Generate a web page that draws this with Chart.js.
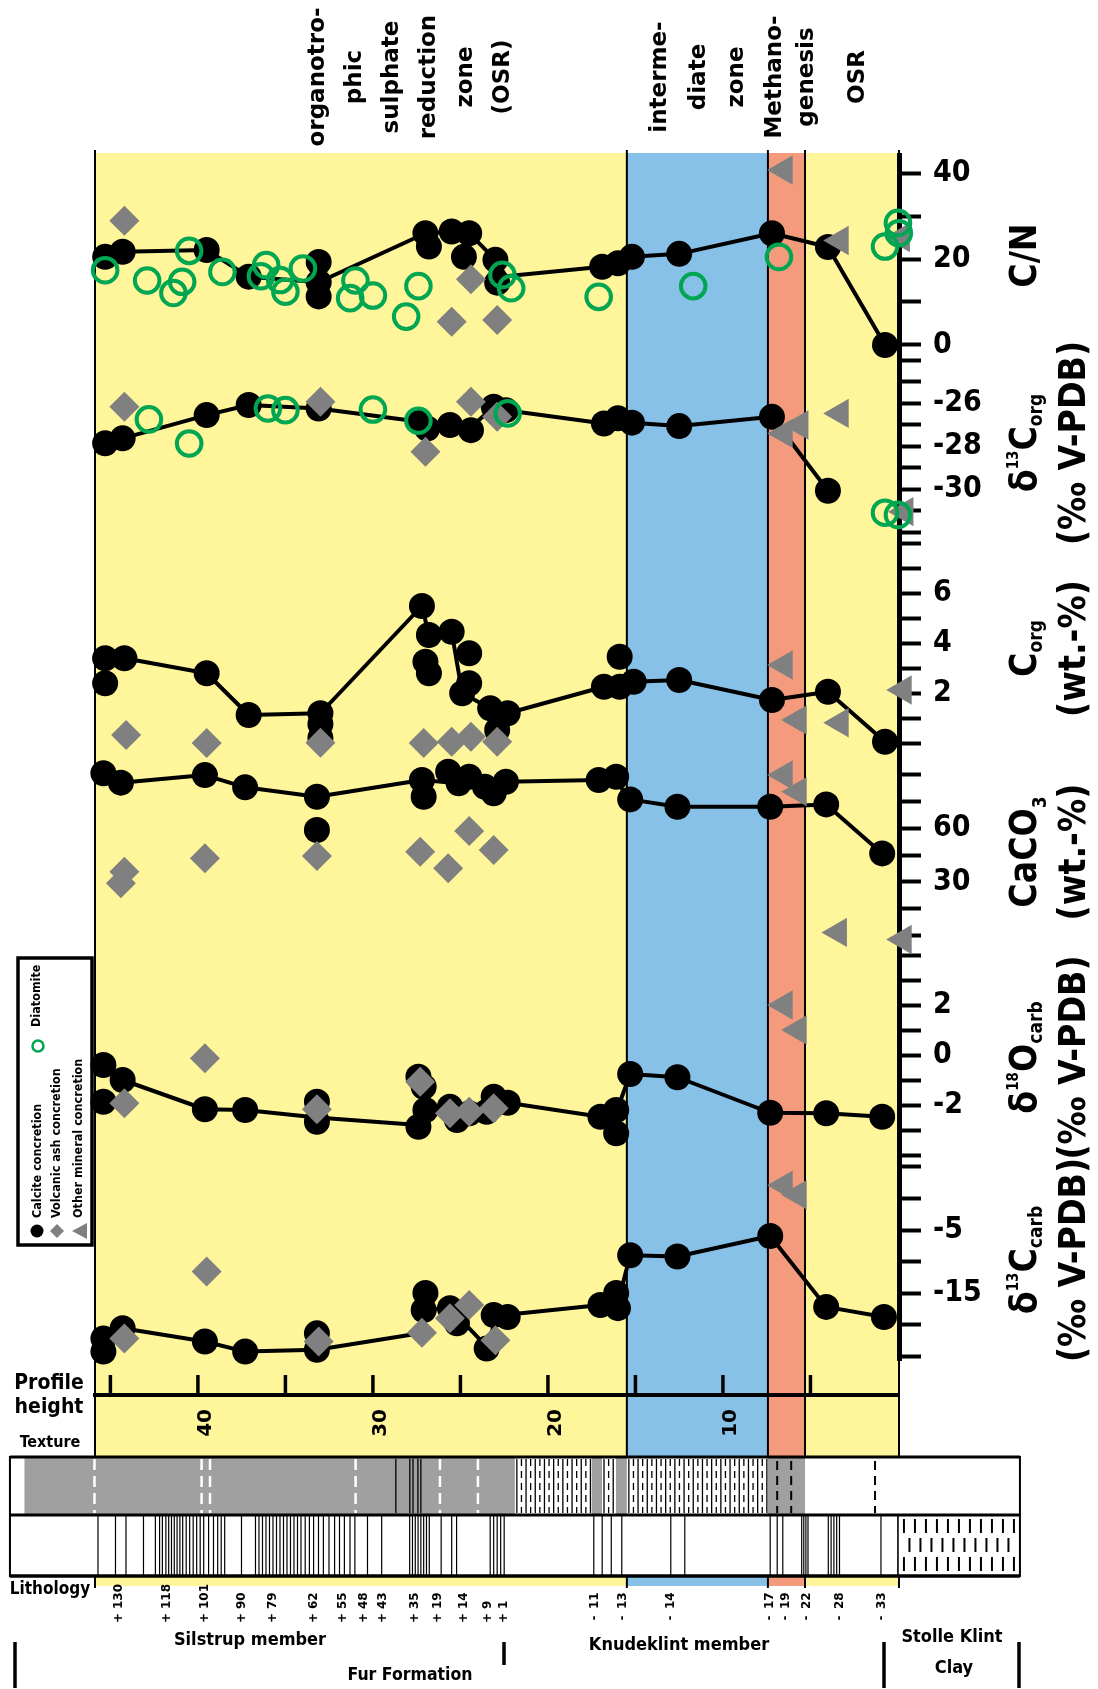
<!DOCTYPE html>
<html>
<head>
<meta charset="utf-8">
<title>Fur Formation concretions – geochemical profile</title>
<script src="https://cdn.jsdelivr.net/npm/chart.js@4.4.1/dist/chart.umd.min.js"></script>
<style>
  html, body { margin: 0; padding: 0; background: #ffffff; }
  #wrap { position: relative; width: 1098px; height: 1689px; }
</style>
</head>
<body>
<div id="wrap"><canvas id="profile"></canvas></div>
<script>
// ------------------------------------------------------------------
// Measurements, each point is [profile height (m), value]
// ------------------------------------------------------------------

// C/N
const cnCalcite = [[45.3,20.5],[44.3,21.7],[39.5,22.1],[37.1,15.9],[33.1,19.3],[33.1,14.6],[33.1,11.3],
  [27.0,26.0],[26.8,22.9],[25.5,26.4],[24.5,26.0],[24.8,20.5],[23.0,19.8],[22.9,14.5],
  [16.9,18.2],[16.0,19.0],[15.2,20.5],[12.5,21.2],[7.2,26.0],[4.0,22.8],[0.74,0.0]];
const cnTrend = [[45.3,20.5],[44.3,21.7],[39.5,22.1],[37.1,15.9],[33.1,14.6],[27.0,26.0],[25.5,26.4],
  [24.5,26.0],[23.0,19.8],[22.4,16.0],[16.9,18.2],[16.0,19.0],[15.2,20.5],[12.5,21.2],[7.2,26.0],[4.0,22.8],[0.74,0.0]];
const cnAsh = [[44.2,28.9],[24.4,15.3],[25.5,5.4],[22.9,5.8]];
const cnOther = [[6.5,40.7],[3.3,24.3],[-0.2,25.0]];
const cnDiatomite = [[45.3,17.4],[42.9,15.0],[41.4,12.1],[40.9,14.7],[40.5,21.9],[38.6,17.0],[36.4,16.0],
  [36.1,18.6],[35.3,15.1],[35.0,12.4],[34.0,17.8],[31.3,10.9],[31.0,15.0],[30.0,11.5],[28.1,6.6],
  [27.4,13.7],[22.6,16.3],[22.1,13.2],[17.1,11.2],[11.7,13.7],[6.8,20.5],[0.74,22.9],[0.0,28.4],[-0.05,26.0]];

// δ13C org (‰ V-PDB)
const corgIsoCalcite = [[45.3,-27.87],[44.3,-27.64],[39.5,-26.56],[37.1,-26.09],[33.1,-26.25],[27.3,-26.87],
  [26.9,-27.18],[25.6,-27.02],[24.4,-27.26],[23.1,-26.17],[22.4,-26.33],[16.8,-26.95],[16.0,-26.71],
  [15.2,-26.91],[12.5,-27.07],[7.2,-26.64],[4.0,-30.08]];
const corgIsoTrend = [[45.3,-27.87],[44.3,-27.64],[39.5,-26.56],[37.1,-26.09],[33.1,-26.25],[27.3,-26.87],
  [25.6,-27.02],[24.4,-27.1],[23.1,-26.2],[22.4,-26.33],[16.8,-26.95],[16.0,-26.71],[15.2,-26.91],
  [12.5,-27.07],[7.2,-26.64],[4.0,-30.08]];
const corgIsoAsh = [[44.2,-26.17],[33.0,-25.94],[27.0,-28.26],[24.4,-25.94],[22.9,-26.64]];
const corgIsoOther = [[3.3,-26.48],[5.6,-27.02],[6.5,-27.41],[-0.4,-31.05]];
const corgIsoDiatomite = [[42.8,-26.76],[40.5,-27.88],[36.0,-26.25],[35.0,-26.33],[30.0,-26.3],[27.4,-26.82],
  [22.3,-26.48],[0.74,-31.1],[0.0,-31.2]];

// C org (wt.-%)
const corgCalcite = [[45.3,3.39],[44.2,3.39],[45.3,2.39],[39.5,2.79],[37.1,1.12],[33.0,1.19],[33.0,0.76],[33.0,0.2],
  [27.2,5.48],[26.8,4.32],[27.0,3.25],[26.8,2.79],[25.5,4.45],[24.5,3.59],[24.5,2.39],[24.9,1.99],
  [23.3,1.39],[22.3,1.19],[22.9,0.52],[16.8,2.25],[15.9,3.45],[15.9,2.25],[15.1,2.45],[12.5,2.52],
  [7.2,1.72],[4.0,2.05],[0.74,0.05]];
const corgTrend = [[45.3,3.39],[44.2,3.39],[39.5,2.79],[37.1,1.12],[33.0,1.19],[27.2,5.48],[26.8,4.32],
  [25.5,4.45],[24.9,1.99],[23.3,1.39],[22.3,1.19],[16.8,2.25],[15.1,2.45],[12.5,2.52],[7.2,1.72],[4.0,2.05],[0.74,0.05]];
const corgAsh = [[44.1,0.32],[39.5,0.0],[33.0,0.01],[27.1,0.0],[25.5,0.05],[24.4,0.25],[22.9,0.05]];
const corgOther = [[6.5,3.12],[5.7,0.92],[3.3,0.81],[-0.3,2.12]];

// CaCO3 (wt.-%)
const caco3Calcite = [[45.4,90.4],[44.4,85.2],[39.6,89.4],[37.3,82.6],[33.2,77.4],[33.2,58.9],[27.2,86.7],
  [27.1,77.4],[25.7,91.3],[25.1,84.8],[24.5,88.5],[23.6,82.9],[23.1,79.3],[22.4,85.7],[17.1,86.7],
  [16.1,88.5],[15.3,75.9],[12.6,71.8],[7.3,71.8],[4.1,73.1],[0.9,45.9]];
const caco3Trend = [[44.4,85.2],[39.6,89.4],[37.3,82.6],[33.2,77.4],[27.2,86.7],[25.1,84.8],[23.6,82.9],
  [22.4,85.7],[17.1,86.7],[16.1,86.0],[15.3,75.9],[12.6,71.8],[7.3,71.8],[4.1,73.1],[0.9,45.9]];
const caco3Ash = [[44.2,35.7],[44.4,29.3],[39.6,43.2],[33.2,44.4],[27.3,46.8],[25.7,37.6],[24.5,58.3],[23.1,47.8]];
const caco3Other = [[6.5,89.4],[5.7,80.2],[3.4,2.0],[-0.3,-2.0]];

// δ18O carb (‰ V-PDB)
const o18Calcite = [[45.4,-0.4],[45.4,-1.87],[44.3,-1.0],[39.6,-2.17],[37.3,-2.2],[33.2,-1.87],[33.2,-2.67],
  [27.4,-0.87],[27.1,-1.27],[27.0,-2.2],[27.4,-2.87],[25.6,-2.07],[25.2,-2.6],[24.5,-2.33],[23.5,-2.27],
  [23.1,-1.67],[22.3,-1.91],[17.0,-2.47],[16.1,-2.2],[16.1,-3.13],[15.3,-0.76],[12.6,-0.89],[7.3,-2.31],
  [4.1,-2.33],[0.9,-2.47]];
const o18Trend = [[45.4,-0.4],[44.3,-1.0],[39.6,-2.17],[37.3,-2.2],[33.2,-2.5],[27.4,-2.8],[27.0,-2.2],
  [25.6,-2.07],[24.5,-2.33],[23.1,-1.8],[22.3,-1.91],[17.0,-2.47],[16.1,-2.3],[15.3,-0.76],[12.6,-0.89],
  [7.3,-2.31],[4.1,-2.33],[0.9,-2.47]];
const o18Ash = [[44.2,-1.93],[39.6,-0.13],[33.2,-2.17],[27.3,-1.07],[25.6,-2.33],[24.5,-2.27],[23.1,-2.13]];
const o18Other = [[6.5,2.0],[5.7,1.0]];

// δ13C carb (‰ V-PDB)
const c13Calcite = [[45.4,-22.2],[45.4,-24.3],[44.3,-20.6],[39.6,-22.7],[37.3,-24.3],[33.2,-21.4],[33.2,-24.0],
  [27.0,-15.0],[27.1,-17.7],[25.6,-17.4],[25.2,-19.8],[23.5,-23.8],[23.1,-18.5],[22.3,-18.8],[17.0,-16.9],
  [16.1,-15.0],[16.0,-17.4],[15.3,-9.0],[12.6,-9.2],[7.3,-5.95],[4.1,-17.2],[0.8,-18.8]];
const c13Trend = [[45.4,-22.2],[44.3,-20.6],[39.6,-22.7],[37.3,-24.3],[33.2,-24.0],[27.3,-21.4],[27.1,-17.7],
  [25.6,-17.4],[23.5,-23.5],[22.9,-18.6],[17.0,-16.9],[16.0,-16.5],[15.3,-9.0],[12.6,-9.2],[7.3,-5.95],
  [4.1,-17.2],[0.8,-18.8]];
const c13Ash = [[44.2,-22.2],[39.5,-11.6],[33.1,-22.7],[27.2,-21.3],[25.6,-19.0],[24.5,-16.9],[23.0,-22.5]];
const c13Other = [[6.5,2.1],[5.7,0.6]];

// ------------------------------------------------------------------
// Axis ticks and labels
// ------------------------------------------------------------------
const heightTicks = [5, 10, 15, 20, 25, 30, 35, 40, 45];
const heightLabels = [10, 20, 30, 40];
const cnTicks = [0, 10, 20, 30, 40];            const cnLabels = [0, 20, 40];
const corgIsoTicks = [-24, -25, -26, -27, -28, -29, -30, -31, -32]; const corgIsoLabels = [-26, -28, -30];
const corgTicks = [0, 1, 2, 3, 4, 5, 6, 7, 8];  const corgLabels = [2, 4, 6];
const caco3Ticks = [0, 15, 30, 45, 60, 75, 90]; const caco3Labels = [30, 60];
const o18Ticks = [-4, -3, -2, -1, 0, 1, 2, 3, 4]; const o18Labels = [2, 0, -2];
const c13Ticks = [-25, -20, -15, -10, -5, 0, 5]; const c13Labels = [-5, -15];

// ------------------------------------------------------------------
// Zones, samples and section columns (heights in m)
// ------------------------------------------------------------------
const zoneEdges = [45.88, 15.49, 7.43, 5.31, -0.06];
const zoneNames = [
  ['organotro-', 'phic', 'sulphate', 'reduction', 'zone', '(OSR)'],
  ['interme-', 'diate', 'zone'],
  ['Methano-', 'genesis'],
  ['OSR']
];
const zoneNameAt = [27.83, 11.37, 6.11, 2.29];

const sampleIds = ['+ 130', '+ 118', '+ 101', '+ 90', '+ 79', '+ 62', '+ 55', '+ 48', '+ 43', '+ 35', '+ 19',
  '+ 14', '+ 9', '+ 1', '- 11', '- 13', '- 14', '- 17', '- 19', '- 22', '- 28', '- 33'];
const sampleHeights = [44.51, 41.79, 39.6, 37.51, 35.71, 33.39, 31.71, 30.51, 29.43, 27.62, 26.30,
  24.82, 23.43, 22.51, 17.31, 15.71, 12.97, 7.31, 6.4, 5.2, 3.31, 0.91];

const sectionTop = 50.74;   // top of logged column
const clayBase = -6.97;     // base of logged Stolle Klint Clay
const textureGrey = [[49.91, 21.89], [17.49, 16.91], [16.11, 15.49], [7.43, 5.31]];
const textureHatch = [[21.89, 17.49], [16.91, 16.11], [15.49, 7.43]];
const textureBreaks = [45.91, 39.79, 39.31, 30.99, 26.17, 24.0];
const textureSeams = [28.69, 27.89, 27.71, 27.43, 27.26];
const textureDashed = [6.9, 6.1, 1.31];
const lithoLines = [45.71, 44.71, 44.11, 43.11, 42.43, 42.19, 42.03, 41.83, 41.67, 41.51, 41.35, 41.19,
  41.03, 40.87, 40.67, 40.47, 40.27, 40.07, 39.87, 39.67, 39.39, 39.11, 38.87, 38.67, 38.47, 37.51,
  36.71, 36.51, 36.31, 36.11, 35.91, 35.71, 35.51, 35.31, 35.11, 34.91, 34.71, 34.51, 34.31, 34.11,
  33.87, 33.63, 33.39, 33.11, 32.83, 32.51, 32.19, 31.91, 31.63, 31.31, 31.03, 30.31, 29.50, 27.90,
  27.74, 27.58, 27.42, 27.26, 27.10, 26.94, 26.78, 26.10, 25.50, 25.22, 23.30, 23.10, 22.90, 22.70,
  22.50, 17.38, 16.90, 16.38, 15.78, 12.98, 12.18, 7.30, 6.90, 6.58, 5.50, 5.38, 5.26, 5.14, 3.98,
  3.82, 3.66, 3.50, 3.34, 0.97];

// ------------------------------------------------------------------
// Styles
// ------------------------------------------------------------------
const INK = '#000000';
const GREY = '#808080';
const GREEN = '#00a651';
const ZONE_FILL = ['#fff59b', '#88c1e8', '#f39b7c', '#fff59b'];
const TEXTURE_GREY = '#a0a0a0';
const COND = "'DejaVu Sans Condensed', 'DejaVu Sans', sans-serif";
const SANS = "'DejaVu Sans', sans-serif";
const AXIS_W = 100;
const BAND_TOP = 153, BAND_BOTTOM = 1457;
const TEX_TOP = 1457, TEX_BOTTOM = 1515, LITH_BOTTOM = 1576;

const L = 37, SUB = 19, SUP = 15, BASE = 13.5;
const runsDelta = (sup, letter, sub) => [
  {t: 'δ', size: L, shift: BASE}, {t: sup, size: SUP, shift: -4},
  {t: letter, size: L, shift: BASE}, {t: sub, size: SUB, shift: BASE + 6}];
const vpdb = [{t: '(‰ V-PDB)', size: L, shift: BASE}];
const wt = [{t: '(wt.-%)', size: L, shift: BASE}];

const panels = [
  {id: 'yCN', weight: 201, min: -2.56, max: 44.19, ticks: cnTicks, labels: cnLabels,
   calcite: cnCalcite, trend: cnTrend, ash: cnAsh, other: cnOther, diatomite: cnDiatomite,
   title: [[{t: 'C/N', size: L, shift: BASE}]], titleShift: 0},
  {id: 'yCorgIso', weight: 184, min: -32.37, max: -23.81, ticks: corgIsoTicks, labels: corgIsoLabels,
   calcite: corgIsoCalcite, trend: corgIsoTrend, ash: corgIsoAsh, other: corgIsoOther, diatomite: corgIsoDiatomite,
   title: [runsDelta('13', 'C', 'org'), vpdb], titleShift: -5},
  {id: 'yCorg', weight: 233, min: -1.2, max: 8.12, ticks: corgTicks, labels: corgLabels,
   calcite: corgCalcite, trend: corgTrend, ash: corgAsh, other: corgOther,
   title: [[{t: 'C', size: L, shift: BASE}, {t: 'org', size: SUB, shift: BASE + 6}], wt], titleShift: -8},
  {id: 'yCaCO3', weight: 182, min: -10.56, max: 90.56, ticks: caco3Ticks, labels: caco3Labels,
   calcite: caco3Calcite, trend: caco3Trend, ash: caco3Ash, other: caco3Other,
   title: [[{t: 'CaCO', size: L, shift: BASE}, {t: '3', size: SUB, shift: BASE + 10}], wt], titleShift: -12},
  {id: 'yO18', weight: 205, min: -4.2, max: 4.0, ticks: o18Ticks, labels: o18Labels,
   calcite: o18Calcite, trend: o18Trend, ash: o18Ash, other: o18Other,
   title: [runsDelta('18', 'O', 'carb'), vpdb], titleShift: 0},
  {id: 'yC13', weight: 200, min: -25.63, max: 6.11, ticks: c13Ticks, labels: c13Labels,
   calcite: c13Calcite, trend: c13Trend, ash: c13Ash, other: c13Other,
   title: [runsDelta('13', 'C', 'carb'), vpdb], titleShift: 0}
];

// ------------------------------------------------------------------
// Datasets
// ------------------------------------------------------------------
const toXY = arr => arr.map(([x, y]) => ({x, y}));
const datasets = [];
panels.forEach(p => {
  if (p.diatomite) {
    datasets.push({label: 'Diatomite', data: toXY(p.diatomite), yAxisID: p.id, order: 0, clip: false,
      pointStyle: 'circle', pointRadius: 12.3, pointBackgroundColor: 'rgba(0,0,0,0)',
      pointBorderColor: GREEN, pointBorderWidth: 4, showLine: false});
  }
  datasets.push({label: 'Other mineral concretion', data: toXY(p.other), yAxisID: p.id, order: 1, clip: false,
    pointStyle: 'triangle', pointRotation: -90, pointRadius: 17, pointBackgroundColor: GREY,
    pointBorderColor: GREY, pointBorderWidth: 0, showLine: false});
  datasets.push({label: 'Volcanic ash concretion', data: toXY(p.ash), yAxisID: p.id, order: 2, clip: false,
    pointStyle: 'rectRot', pointRadius: 15, pointBackgroundColor: GREY,
    pointBorderColor: GREY, pointBorderWidth: 0, showLine: false});
  datasets.push({label: 'Calcite concretion', data: toXY(p.calcite), yAxisID: p.id, order: 3, clip: false,
    pointStyle: 'circle', pointRadius: 13, pointBackgroundColor: INK,
    pointBorderColor: INK, pointBorderWidth: 0, showLine: false});
  datasets.push({label: 'Calcite trend', data: toXY(p.trend), yAxisID: p.id, order: 4, clip: false,
    showLine: true, borderColor: INK, borderWidth: 4, pointRadius: 0, fill: false, tension: 0,
    borderJoinStyle: 'round'});
});

// ------------------------------------------------------------------
// Scales: reversed height axis, stacked value axes on the right
// ------------------------------------------------------------------
const scales = {
  x: {
    type: 'linear', position: 'bottom', reverse: true, min: -0.06, max: 45.88,
    afterBuildTicks: s => { s.ticks = heightTicks.map(v => ({value: v})); },
    afterFit: s => { s.height = 60; },
    grid: {display: false, drawTicks: false},
    border: {display: true, color: INK, width: 4},
    ticks: {autoSkip: false, minRotation: 90, maxRotation: 90, padding: 14, labelOffset: 8, color: INK,
      font: {family: SANS, size: 20, weight: 'bold'},
      callback: v => heightLabels.includes(v) ? String(v) : ''}
  }
};
panels.forEach(p => {
  scales[p.id] = {
    type: 'linear', position: 'right', stack: 'profile', stackWeight: p.weight, min: p.min, max: p.max,
    afterBuildTicks: s => { s.ticks = p.ticks.map(v => ({value: v})); },
    afterFit: s => { s.width = AXIS_W; },
    grid: {display: true, drawOnChartArea: false, drawTicks: true, tickLength: 22, tickWidth: 4, tickColor: INK},
    border: {display: true, color: INK, width: 5},
    ticks: {autoSkip: false, padding: 12, color: INK, font: {family: COND, size: 30, weight: 'bold'},
      callback: v => p.labels.includes(v) ? String(v) : ''}
  };
});
scales.ySpacer = {
  type: 'linear', position: 'right', stack: 'profile', stackWeight: 35, min: 0, max: 1,
  afterFit: s => { s.width = AXIS_W; },
  grid: {display: false}, border: {display: false}, ticks: {display: false}
};

// ------------------------------------------------------------------
// Drawing helpers
// ------------------------------------------------------------------
function vText(ctx, text, x, y, font, align) {
  ctx.save();
  ctx.translate(x, y);
  ctx.rotate(-Math.PI / 2);
  ctx.font = font;
  ctx.fillStyle = INK;
  ctx.textAlign = align || 'center';
  ctx.textBaseline = 'middle';
  ctx.fillText(text, 0, 0);
  ctx.restore();
}
function vRich(ctx, runs, x, y) {
  ctx.save();
  ctx.translate(x, y);
  ctx.rotate(-Math.PI / 2);
  ctx.fillStyle = INK;
  ctx.textAlign = 'left';
  ctx.textBaseline = 'alphabetic';
  let total = 0;
  const widths = runs.map(r => { ctx.font = `bold ${r.size}px ${COND}`; const w = ctx.measureText(r.t).width; total += w; return w; });
  let cx = -total / 2;
  runs.forEach((r, i) => { ctx.font = `bold ${r.size}px ${COND}`; ctx.fillText(r.t, cx, r.shift); cx += widths[i]; });
  ctx.restore();
}
function vline(ctx, x, y1, y2) {
  ctx.beginPath(); ctx.moveTo(x, y1); ctx.lineTo(x, y2); ctx.stroke();
}
function hText(ctx, text, x, y, font) {
  ctx.font = font; ctx.fillStyle = INK; ctx.textAlign = 'center'; ctx.textBaseline = 'middle';
  ctx.fillText(text, x, y);
}

const sectionPlugin = {
  id: 'section',
  beforeDraw(chart) {
    const ctx = chart.ctx, xs = chart.scales.x;
    const px = h => xs.getPixelForValue(h);
    ctx.save();
    // zone bands, and the coloured strip under the lithology column
    for (let i = 0; i < ZONE_FILL.length; i++) {
      const x1 = px(zoneEdges[i]), x2 = px(zoneEdges[i + 1]);
      ctx.fillStyle = ZONE_FILL[i];
      ctx.fillRect(x1, BAND_TOP, x2 - x1, BAND_BOTTOM - BAND_TOP);
      ctx.fillRect(x1, LITH_BOTTOM + 1, x2 - x1, 9);
    }
    // zone boundaries
    ctx.strokeStyle = INK; ctx.lineWidth = 2;
    zoneEdges.forEach(h => { const x = px(h); vline(ctx, x, BAND_TOP - 3, BAND_BOTTOM); vline(ctx, x, LITH_BOTTOM, LITH_BOTTOM + 12); });
    // profile height ticks, pointing up into the plot
    ctx.lineWidth = 3.5;
    heightTicks.forEach(h => vline(ctx, px(h), chart.chartArea.bottom - 20, chart.chartArea.bottom));
    ctx.restore();
  },
  afterDraw(chart) {
    const ctx = chart.ctx, xs = chart.scales.x;
    const px = h => xs.getPixelForValue(h);
    ctx.save();

    // zone names
    const gaps = [37, 38.5, 32, 0];
    zoneNames.forEach((lines, z) => {
      const cx = px(zoneNameAt[z]);
      lines.forEach((t, i) => vText(ctx, t, cx + (i - (lines.length - 1) / 2) * gaps[z], 77, `bold 23px ${SANS}`));
    });

    // axis titles
    panels.forEach(p => {
      const s = chart.scales[p.id];
      const cy = (s.top + s.bottom) / 2 + p.titleShift;
      p.title.forEach((runs, i) => vRich(ctx, runs, i === 0 ? 1022 : 1071, cy));
    });

    // texture and lithology columns
    const xL = px(sectionTop), xR = px(clayBase), x0 = px(0);
    ctx.fillStyle = '#ffffff';
    ctx.fillRect(xL, TEX_TOP, xR - xL, LITH_BOTTOM - TEX_TOP);
    ctx.fillStyle = TEXTURE_GREY;
    textureGrey.forEach(([a, b]) => ctx.fillRect(px(a), TEX_TOP, px(b) - px(a), TEX_BOTTOM - TEX_TOP));
    ctx.strokeStyle = INK; ctx.lineWidth = 1.3;
    textureHatch.forEach(([a, b]) => {
      let k = 0;
      for (let x = px(a) + 2; x < px(b) - 1; x += 4.6, k++) {
        ctx.setLineDash(k % 2 ? [7, 5] : []);
        vline(ctx, x, TEX_TOP + 2, TEX_BOTTOM - 2);
      }
    });
    ctx.setLineDash([]);
    textureSeams.forEach(h => vline(ctx, px(h), TEX_TOP + 2, TEX_BOTTOM - 2));
    ctx.strokeStyle = '#ffffff'; ctx.lineWidth = 2.5; ctx.setLineDash([11, 6]);
    textureBreaks.forEach(h => vline(ctx, px(h), TEX_TOP + 2, TEX_BOTTOM - 2));
    ctx.strokeStyle = INK; ctx.lineWidth = 2; ctx.setLineDash([9, 6]);
    textureDashed.forEach(h => vline(ctx, px(h), TEX_TOP + 4, TEX_BOTTOM - 2));
    ctx.setLineDash([]);

    ctx.lineWidth = 1.2;
    lithoLines.forEach(h => vline(ctx, px(h), TEX_BOTTOM, LITH_BOTTOM));
    // Stolle Klint Clay symbol
    ctx.lineWidth = 2;
    for (let r = 0; r < 3; r++) {
      const y1 = TEX_BOTTOM + 4 + r * 19;
      for (let x = x0 + 6 + (r % 2) * 5.5; x < xR - 4; x += 11) vline(ctx, x, y1, y1 + 14);
    }
    ctx.lineWidth = 1.6; vline(ctx, x0, TEX_BOTTOM, LITH_BOTTOM);
    ctx.lineWidth = 2; ctx.strokeRect(xL, TEX_TOP, xR - xL, LITH_BOTTOM - TEX_TOP);
    ctx.lineWidth = 3;
    ctx.beginPath(); ctx.moveTo(xL, TEX_TOP); ctx.lineTo(xR, TEX_TOP); ctx.stroke();
    ctx.beginPath(); ctx.moveTo(xL, TEX_BOTTOM); ctx.lineTo(xR, TEX_BOTTOM); ctx.stroke();
    ctx.lineWidth = 3.5;
    ctx.beginPath(); ctx.moveTo(xL, LITH_BOTTOM); ctx.lineTo(xR, LITH_BOTTOM); ctx.stroke();

    // sample numbers
    sampleIds.forEach((id, i) => {
      const x = px(sampleHeights[i]);
      const [sign, num] = id.split(' ');
      vText(ctx, sign, x, 1618, `bold 12px ${SANS}`, 'center');
      vText(ctx, num, x, 1609, `bold 12px ${SANS}`, 'left');
    });

    // left-hand labels
    hText(ctx, 'Profile', 49, 1384, `bold 21px ${COND}`);
    hText(ctx, 'height', 49, 1408, `bold 21px ${COND}`);
    hText(ctx, 'Texture', 50, 1443, `bold 16px ${COND}`);
    hText(ctx, 'Lithology', 50, 1590, `bold 17px ${COND}`);

    // stratigraphic units
    const uf = `bold 18px ${COND}`;
    hText(ctx, 'Silstrup member', 250, 1640, uf);
    hText(ctx, 'Knudeklint member', 679, 1645, uf);
    hText(ctx, 'Stolle Klint', 952, 1637, uf);
    hText(ctx, 'Clay', 954, 1668, uf);
    hText(ctx, 'Fur Formation', 410, 1675, `bold 17.5px ${COND}`);
    ctx.strokeStyle = INK; ctx.lineWidth = 3.5;
    vline(ctx, 15, 1642, 1688); vline(ctx, 504, 1642, 1665);
    vline(ctx, 884, 1642, 1688); vline(ctx, 1019, 1642, 1688);

    // legend
    ctx.lineWidth = 3.5; ctx.strokeRect(18, 958, 74, 287);
    ctx.fillStyle = INK; ctx.beginPath(); ctx.arc(37, 1231, 6.5, 0, Math.PI * 2); ctx.fill();
    ctx.fillStyle = GREY; ctx.beginPath();
    ctx.moveTo(50, 1231); ctx.lineTo(57, 1224); ctx.lineTo(64, 1231); ctx.lineTo(57, 1238); ctx.closePath(); ctx.fill();
    ctx.beginPath(); ctx.moveTo(72, 1231); ctx.lineTo(87, 1223); ctx.lineTo(87, 1239); ctx.closePath(); ctx.fill();
    ctx.strokeStyle = GREEN; ctx.lineWidth = 2.5; ctx.beginPath(); ctx.arc(38, 1046, 5.5, 0, Math.PI * 2); ctx.stroke();
    const lf = `bold 12.5px ${COND}`;
    vText(ctx, 'Calcite concretion', 38, 1218, lf, 'left');
    vText(ctx, 'Volcanic ash concretion', 57, 1218, lf, 'left');
    vText(ctx, 'Other mineral concretion', 79, 1218, lf, 'left');
    vText(ctx, 'Diatomite', 37, 1027, lf, 'left');

    ctx.restore();
  }
};

new Chart(document.getElementById('profile'), {
  type: 'scatter',
  data: {datasets},
  options: {
    responsive: true,
    maintainAspectRatio: false,
    animation: false,
    events: [],
    layout: {padding: {left: 95, right: 99, top: 155, bottom: 234}},
    scales,
    plugins: {legend: {display: false}, tooltip: {enabled: false}, title: {display: false}}
  },
  plugins: [sectionPlugin]
});
</script>
</body>
</html>
